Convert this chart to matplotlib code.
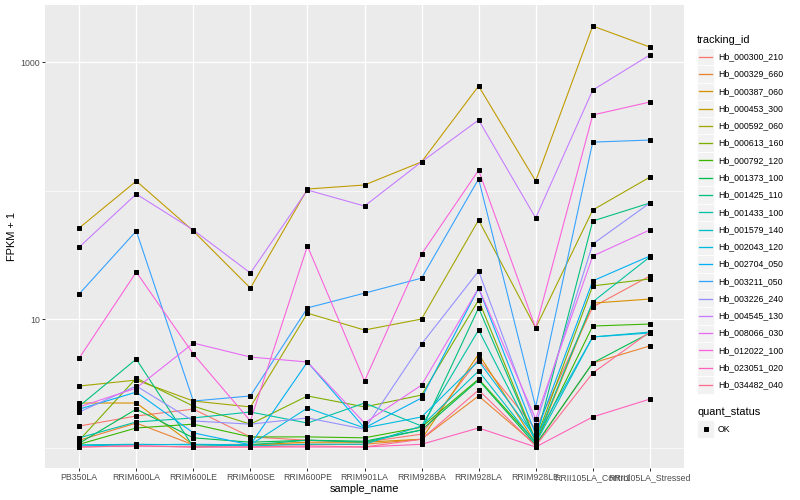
"""Expression profile of 20 Hb transcripts across samples (FPKM + 1, log scale)."""

import matplotlib

matplotlib.use("Agg")
import matplotlib.pyplot as plt
import numpy as np
from matplotlib.patches import Rectangle

plt.rcParams["font.family"] = ["Liberation Sans", "DejaVu Sans"]

samples = [
    "PB350LA", "RRIM600LA", "RRIM600LE", "RRIM600SE", "RRIM600PE", "RRIM901LA",
    "RRIM928BA", "RRIM928LA", "RRIM928LE", "RRII105LA_Control", "RRII105LA_Stressed",
]

tracking_ids = [
    "Hb_000300_210", "Hb_000329_660", "Hb_000387_060", "Hb_000453_300",
    "Hb_000592_060", "Hb_000613_160", "Hb_000792_120", "Hb_001373_100",
    "Hb_001425_110", "Hb_001433_100", "Hb_001579_140", "Hb_002043_120",
    "Hb_002704_050", "Hb_003211_050", "Hb_003226_240", "Hb_004545_130",
    "Hb_008066_030", "Hb_012022_100", "Hb_023051_020", "Hb_034482_040",
]

# ggplot2 default hue palette for 20 levels
hue_colors = [
    "#F8766D", "#EA8331", "#D89000", "#C09B00", "#A3A500", "#7CAE00", "#39B600",
    "#00BB4E", "#00BF7D", "#00C1A3", "#00BFC4", "#00BAE0", "#00B0F6", "#35A2FF",
    "#9590FF", "#C77CFF", "#E76BF3", "#FA62DB", "#FF62BC", "#FF6C90",
]

# FPKM + 1, one list per transcript, in sample order
hb_000300_210 = [1.47, 1.76, 1.99, 1.21, 1.14, 1.10, 1.27, 4.88, 1.39, 12.4, 21.6]
hb_000329_660 = [1.14, 1.55, 1.05, 1.06, 1.06, 1.06, 1.16, 2.52, 1.05, 4.55, 6.17]
hb_000387_060 = [2.22, 2.22, 1.05, 1.05, 1.10, 1.10, 1.16, 5.34, 1.08, 13.3, 14.3]
hb_000453_300 = [51.1, 118.5, 48.4, 17.4, 102.7, 110.4, 167, 650, 118.5, 1906, 1308]
hb_000592_060 = [3.01, 3.35, 2.30, 2.07, 11.1, 8.21, 10.0, 58.9, 8.51, 70.5, 127]
hb_000613_160 = [1.14, 3.47, 2.10, 1.52, 2.52, 2.07, 2.56, 14.06, 1.14, 18.1, 20.5]
hb_000792_120 = [1.06, 1.42, 1.52, 1.21, 1.21, 1.19, 1.44, 3.41, 1.10, 8.82, 9.14]
hb_001373_100 = [1.08, 1.99, 1.19, 1.10, 1.14, 1.12, 1.37, 3.35, 1.05, 4.55, 7.78]
hb_001425_110 = [2.10, 4.88, 1.01, 1.05, 1.14, 1.10, 1.37, 12.2, 1.12, 57.9, 79.9]
hb_001433_100 = [1.19, 1.58, 1.70, 1.89, 1.55, 2.22, 1.47, 8.21, 1.12, 13.6, 30.4]
hb_001579_140 = [1.05, 1.06, 1.05, 1.03, 1.06, 1.06, 1.47, 3.94, 1.08, 7.25, 7.92]
hb_002043_120 = [1.03, 1.05, 1.06, 1.05, 2.03, 1.42, 1.73, 4.71, 1.19, 7.25, 7.78]
hb_002704_050 = [1.99, 2.70, 1.30, 1.05, 4.63, 1.42, 2.43, 17.4, 1.27, 19.8, 30.9]
hb_003211_050 = [15.7, 48.4, 2.30, 2.52, 12.2, 15.9, 20.8, 123, 2.07, 238, 247]
hb_003226_240 = [1.89, 3.01, 1.61, 1.52, 1.70, 1.39, 6.39, 23.6, 1.50, 38.3, 79.9]
hb_004545_130 = [36.3, 93.9, 49.3, 22.8, 100.9, 75.7, 167, 354, 61.1, 605, 1134]
hb_008066_030 = [2.07, 2.90, 6.50, 5.06, 4.63, 1.55, 3.06, 17.4, 1.67, 30.9, 49.3]
hb_012022_100 = [4.97, 23.2, 5.34, 1.61, 37.0, 3.29, 32.0, 144, 8.51, 387, 488]
hb_023051_020 = [1.01, 1.03, 1.01, 1.01, 1.01, 1.01, 1.06, 1.42, 1.01, 1.73, 2.38]
hb_034482_040 = [1.01, 1.03, 1.01, 1.01, 1.03, 1.01, 1.16, 2.80, 1.03, 3.80, 7.92]

series = [
    hb_000300_210, hb_000329_660, hb_000387_060, hb_000453_300, hb_000592_060,
    hb_000613_160, hb_000792_120, hb_001373_100, hb_001425_110, hb_001433_100,
    hb_001579_140, hb_002043_120, hb_002704_050, hb_003211_050, hb_003226_240,
    hb_004545_130, hb_008066_030, hb_012022_100, hb_023051_020, hb_034482_040,
]

DPI = 72
W, H = 800, 500
PANEL_BG = "#EBEBEB"


def _style_axes(ax):
    ax.set_facecolor(PANEL_BG)
    for s in ax.spines.values():
        s.set_visible(False)
    ax.set_yscale("log")
    ax.set_ylim(0.693, 2777)
    ax.set_xlim(-0.6, len(samples) - 0.4)
    ax.set_yticks([10, 1000])
    ax.set_yticklabels(["10", "1000"])
    ax.set_yticks([1, 100], minor=True)
    ax.set_yticklabels([], minor=True)
    ax.set_xticks(np.arange(len(samples)))
    ax.set_xticklabels(samples)
    ax.tick_params(axis="both", which="major", length=2.75, width=1.0,
                   color="#333333", labelcolor="#4D4D4D", labelsize=8.8, pad=2.2)
    ax.tick_params(axis="y", which="minor", length=0)
    ax.grid(True, which="major", color="white", linewidth=1.2)
    ax.grid(True, which="minor", axis="y", color="white", linewidth=0.6)
    ax.set_axisbelow(True)
    ax.set_xlabel("sample_name", fontsize=11, labelpad=2)
    ax.set_ylabel("FPKM + 1", fontsize=11, labelpad=3)


def _draw_legend(fig):
    lax = fig.add_axes([0, 0, 1, 1], facecolor="none")
    lax.set_xlim(0, W)
    lax.set_ylim(H, 0)
    lax.axis("off")
    x0, key = 697, 17.28
    lax.text(x0, 40, "tracking_id", fontsize=11, va="center", ha="left")
    for i, (name, color) in enumerate(zip(tracking_ids, hue_colors)):
        yc = 56.7 + key * i
        lax.add_patch(Rectangle((x0, yc - key / 2), key, key, facecolor="#F2F2F2",
                                edgecolor="white", linewidth=0.8))
        lax.plot([x0 + 2, x0 + key - 2], [yc, yc], color=color, linewidth=1.3)
        lax.text(x0 + key + 3.5, yc, name, fontsize=8.8, va="center", ha="left")
    lax.text(x0, 412, "quant_status", fontsize=11, va="center", ha="left")
    yc = 429
    lax.add_patch(Rectangle((x0, yc - key / 2), key, key, facecolor="#F2F2F2",
                            edgecolor="white", linewidth=0.8))
    lax.plot([x0 + key / 2], [yc], marker="s", markersize=3.5, color="black")
    lax.text(x0 + key + 3.5, yc, "OK", fontsize=8.8, va="center", ha="left")


def main():
    fig = plt.figure(figsize=(W / DPI, H / DPI), dpi=DPI)
    ax = fig.add_axes([45 / W, 32 / H, 639 / W, 463 / H])
    _style_axes(ax)

    x = np.arange(len(samples))
    for vals, color in zip(series, hue_colors):
        ax.plot(x, vals, color=color, linewidth=1.1, zorder=2)
    for vals in series:
        ax.plot(x, vals, linestyle="none", marker="s", markersize=3.5,
                color="black", zorder=3)

    _draw_legend(fig)
    fig.savefig("out.png", dpi=DPI)
    plt.close(fig)


if __name__ == "__main__":
    main()
